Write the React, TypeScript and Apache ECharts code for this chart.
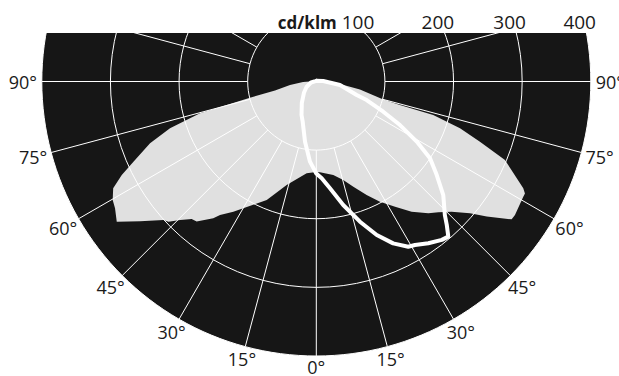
import React, { useEffect, useRef } from 'react';
import * as echarts from 'echarts';

// ---- layout constants (polar frame) ----
const CX = 316.3;
const CY = 81.5;
const R_IN = 68.6;
const R_OUT = 274.5;
const TOP_CLIP = 33;
const W = 619;
const H = 376;

// ---- axes ----
const radiusMin = 100;
const radiusMax = 400;
const radiusTicks = [100, 200, 300, 400];
const angleStep = 15;
const angleLabels = [0, 15, 30, 45, 60, 75, 90];
const unitLabel = 'cd/klm';

// ---- C0-C180 plane (grey area) ----
// left half (C180): gamma from nadir, values in cd/klm
const c180Angles = [0, 6, 16, 22.7, 32.5, 35.8, 37, 40.5, 42.2, 44.5, 46.5, 47.8, 51.6, 54.9, 57.8, 59.8, 62.3, 64.3, 66.3, 69.6, 72.3, 74.7, 76.3, 77.7, 82.4, 87.8, 93.5, 180];
const c180Values = [132, 134.5, 156.8, 187.2, 225, 239.8, 249.5, 268.5, 270.4, 283, 297, 300.7, 327.6, 355.4, 346.6, 343.3, 334.3, 314.6, 291, 258.5, 223.8, 175.7, 99.5, 61.6, 38.7, 19.4, 4.8, 0];
// right half (C0): traced from nadir outwards, round the tip and back to zenith
const c0Angles = [2.3, 10.3, 15.3, 19.4, 23.9, 27.9, 32.2, 36.2, 40.4, 43, 46.1, 49.4, 51.6, 54.8, 56.1, 60.9, 61.8, 62.7, 67.4, 69.8, 72, 74, 74.3, 75, 79.6, 84, 94.9, 180];
const c0Values = [132.4, 138.5, 148.8, 162.5, 181, 198.2, 215.5, 235.2, 252.1, 260.7, 273.7, 295, 317, 348.4, 348.8, 345.2, 345, 339.4, 297.8, 254.1, 220.2, 177.3, 126.6, 101.1, 64.7, 34.7, 10.2, 0];

// ---- C90-C270 plane (white line) ----
const c270Angles = [4.5, 10.6, 18.7, 23.8, 34, 48.2, 60.7, 79, 180];
const c270Values = [117.2, 89.3, 61.9, 53.4, 37.8, 24, 16.4, 7.9, 1];
const c90Angles = [0, 3.2, 7.3, 12.3, 17.3, 21.5, 25.4, 29.1, 31.1, 34.7, 38.4, 40.4, 42.3, 43.9, 48.2, 52.2, 56, 59.1, 62.5, 65.7, 69.8, 71.5, 81.6, 94];
const c90Values = [134, 141.3, 156.9, 184.2, 214, 240.4, 261.1, 275.5, 278.3, 286.7, 294.5, 296.8, 282.5, 270.2, 248.2, 222, 199.9, 170.6, 137.5, 107.1, 78.2, 62.1, 34.9, 10.2];

const FONT = "'Open Sans', 'Noto Sans', sans-serif";
const TEXT_COLOR = '#1a1a1a';

export default function App() {
  const ref = useRef<HTMLDivElement>(null);

  useEffect(() => {
    const chart = echarts.init(ref.current!, null, { renderer: 'svg' });

    // left side -> angle value gamma ; right side -> 360 - gamma
    const grayPoly: number[][] = [];
    c180Angles.forEach((a, i) => grayPoly.push([c180Values[i], a]));
    for (let i = c0Angles.length - 1; i >= 0; i--) grayPoly.push([c0Values[i], 360 - c0Angles[i]]);

    const whiteLine: number[][] = [];
    for (let i = c270Angles.length - 1; i >= 0; i--) whiteLine.push([c270Values[i], c270Angles[i]]);
    c90Angles.forEach((a, i) => whiteLine.push([c90Values[i], 360 - a]));
    whiteLine.push([c270Values[c270Values.length - 1], 180]);

    const pxPerUnit = (R_OUT - R_IN) / (radiusMax - radiusMin);
    const rOf = (v: number) => R_IN + (v - radiusMin) * pxPerUnit;
    const dy = CY - TOP_CLIP;

    const topLabels = radiusTicks.map((v, i) => {
      const r = rOf(v);
      const x = CX + Math.sqrt(Math.max(r * r - dy * dy, 0)) + 9.5;
      return {
        type: 'text',
        x,
        y: 22,
        z: 51,
        silent: true,
        style: {
          text: i === 0 ? `{u|${unitLabel}} ${v}` : String(v),
          align: 'right',
          verticalAlign: 'middle',
          fontSize: 19,
          fontFamily: FONT,
          fill: TEXT_COLOR,
          rich: {
            u: { fontSize: 17, fontWeight: 'bold', fontFamily: FONT, fill: TEXT_COLOR },
          },
        },
      };
    });

    const angleTexts: any[] = [];
    angleLabels.forEach((g) => {
      const rad = (g * Math.PI) / 180;
      const d = R_OUT + 10.5 + 8.5 * Math.sin(rad);
      const sides = g === 0 ? [0] : [-1, 1];
      sides.forEach((s) => {
        angleTexts.push({
          type: 'text',
          x: CX + s * d * Math.sin(rad),
          y: CY + d * Math.cos(rad),
          z: 51,
          silent: true,
          style: {
            text: `${g}°`,
            align: 'center',
            verticalAlign: 'middle',
            fontSize: 18,
            fontFamily: FONT,
            fill: TEXT_COLOR,
          },
        });
      });
    });

    const option: any = {
      animation: false,
      polar: { center: [CX, CY], radius: [R_IN, R_OUT] },
      radiusAxis: {
        type: 'value',
        min: radiusMin,
        max: radiusMax,
        interval: 100,
        z: 3,
        axisLine: { show: false },
        axisTick: { show: false },
        axisLabel: { show: false },
        splitLine: { show: true, lineStyle: { color: '#ffffff', width: 1 } },
      },
      angleAxis: {
        type: 'value',
        min: 0,
        max: 360,
        interval: angleStep,
        startAngle: 270,
        clockwise: true,
        z: 3,
        axisLine: { show: false },
        axisTick: { show: false },
        axisLabel: { show: false },
        splitLine: { show: true, lineStyle: { color: '#ffffff', width: 1 } },
      },
      series: [
        {
          type: 'custom',
          coordinateSystem: 'polar',
          z: 1,
          silent: true,
          data: [[radiusMin, 0]],
          renderItem: (_params: any, api: any) => {
            const pts = grayPoly.map((p) => api.coord(p));
            return {
              type: 'polygon',
              shape: { points: pts },
              style: { fill: '#e0e0e0', stroke: null },
            };
          },
        },
        {
          type: 'custom',
          coordinateSystem: 'polar',
          z: 4,
          silent: true,
          data: [[radiusMin, 0]],
          renderItem: (_params: any, api: any) => {
            const pts = whiteLine.map((p) => api.coord(p));
            return {
              type: 'polyline',
              shape: { points: pts },
              style: { stroke: '#ffffff', lineWidth: 4, fill: null, lineJoin: 'round', lineCap: 'round' },
            };
          },
        },
      ],
      graphic: {
        elements: [
          {
            type: 'circle',
            z: 0,
            silent: true,
            shape: { cx: CX, cy: CY, r: R_OUT },
            style: { fill: '#161616' },
          },
          {
            type: 'rect',
            z: 50,
            silent: true,
            shape: { x: 0, y: 0, width: W, height: TOP_CLIP },
            style: { fill: '#ffffff' },
          },
          ...topLabels,
          ...angleTexts,
        ],
      },
    };

    chart.setOption(option);
    return () => chart.dispose();
  }, []);

  return (
    <div
      ref={ref}
      style={{ position: 'absolute', left: 0, top: 0, width: W, height: H, background: '#ffffff' }}
    />
  );
}
